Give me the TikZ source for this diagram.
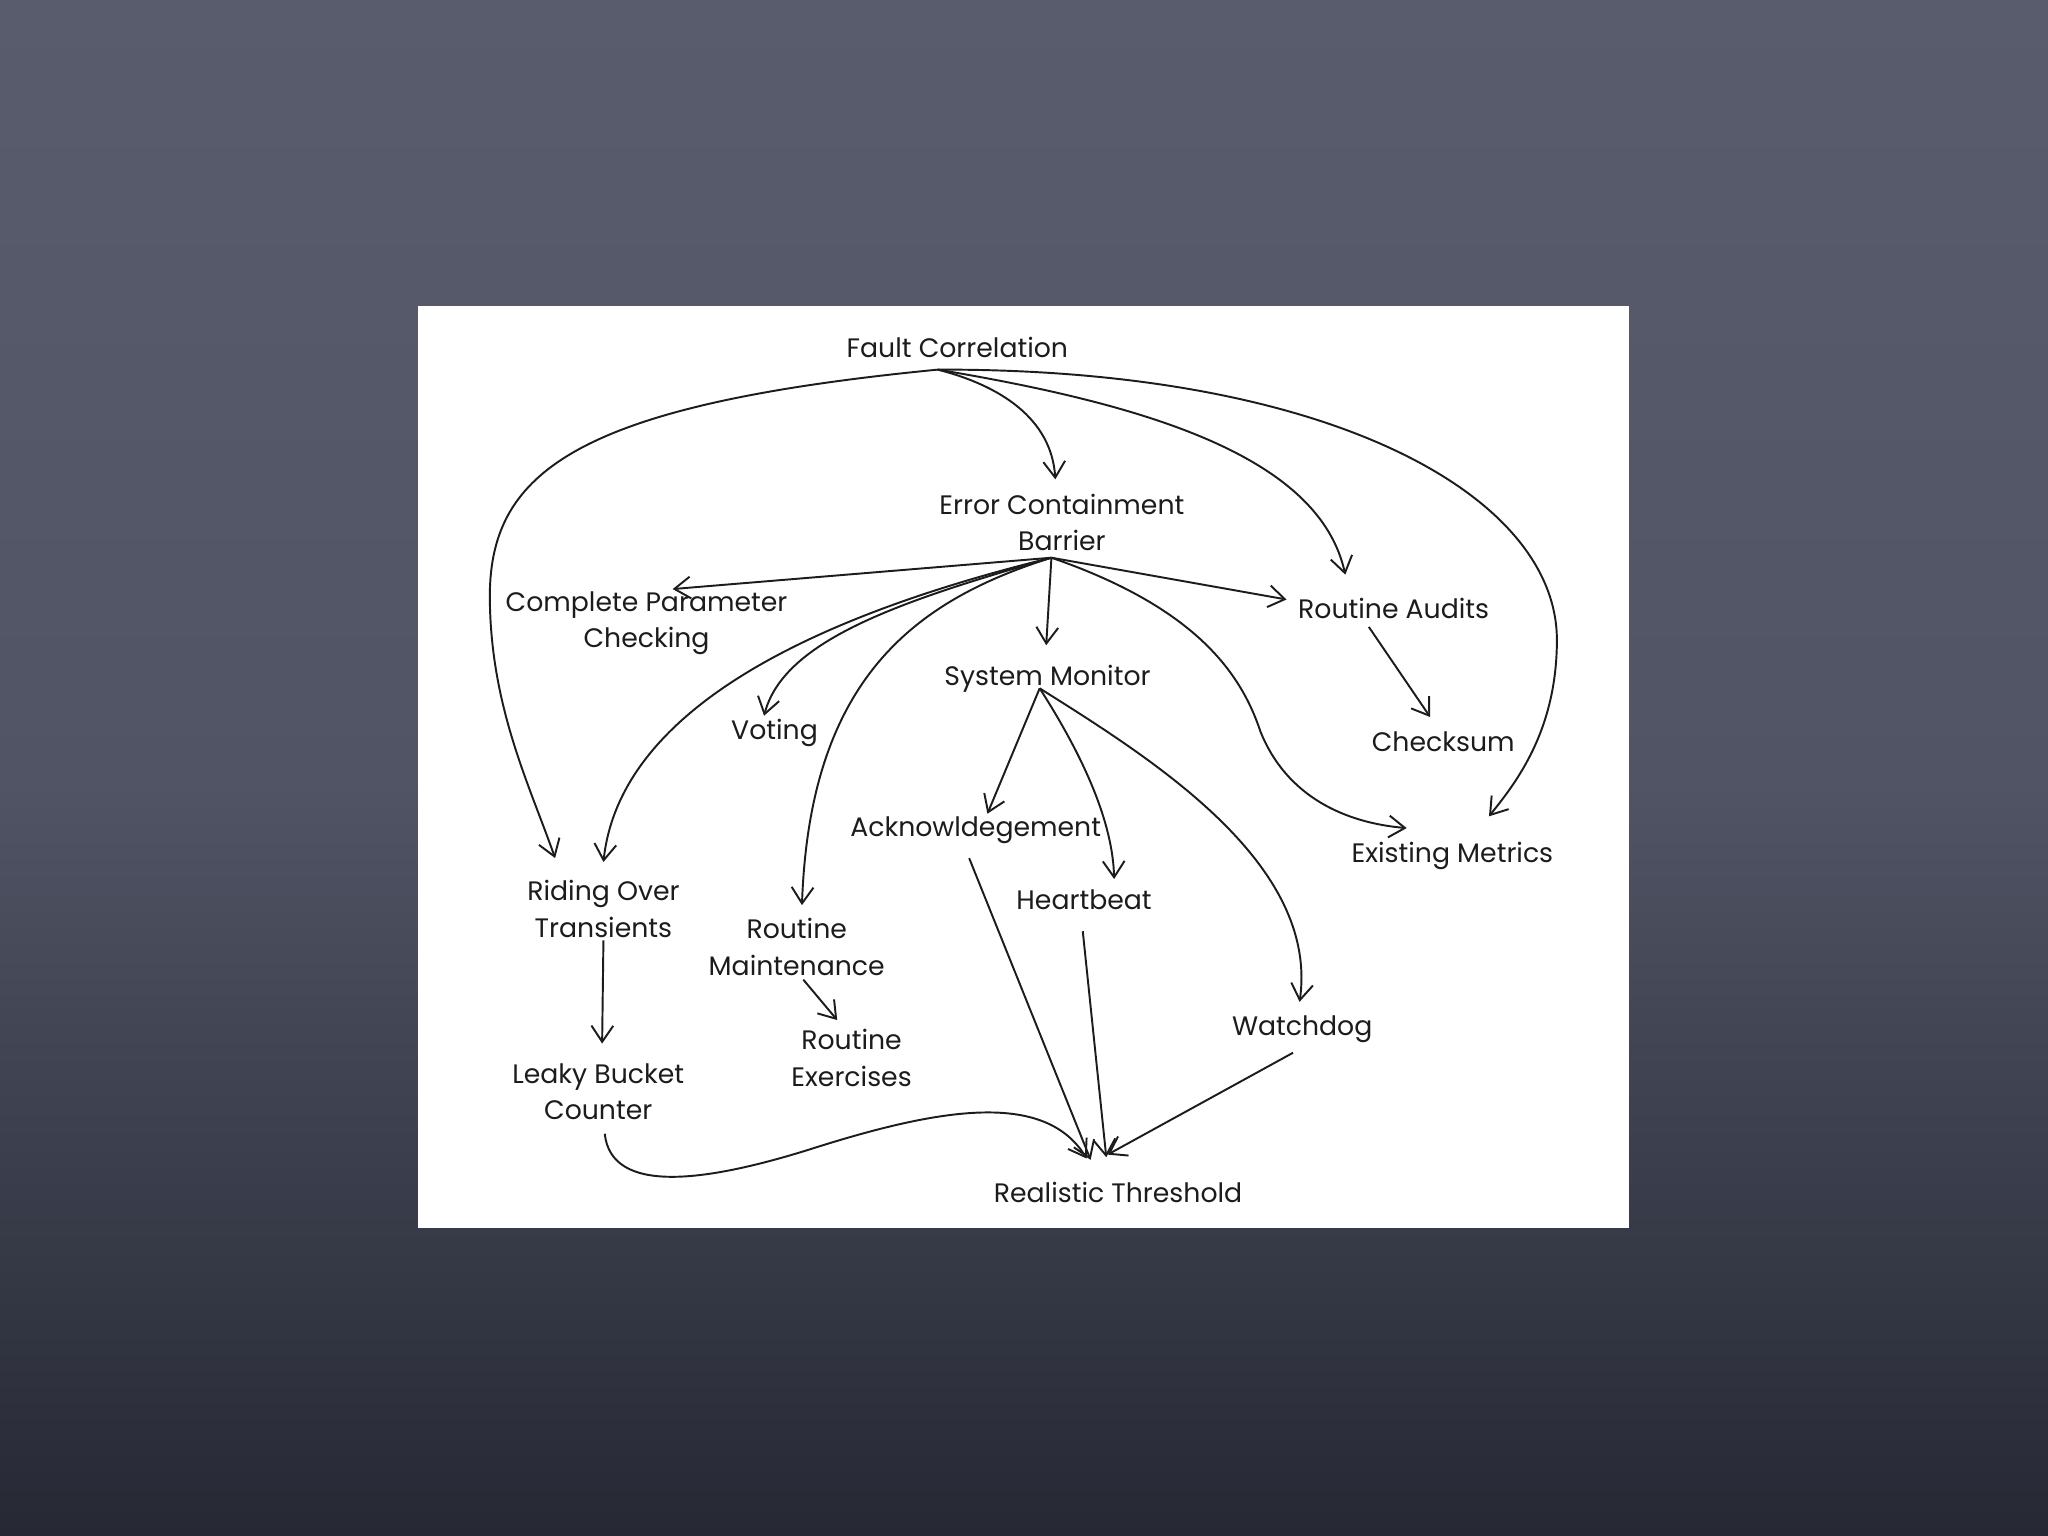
\documentclass[tikz,border=0pt]{standalone}
\usepackage{fontspec}
\setmainfont{Poppins}
\usetikzlibrary{arrows.meta,calc}
\definecolor{bgtop}{RGB}{88,92,108}
\definecolor{bgmid}{RGB}{80,84,100}
\definecolor{bglow}{RGB}{66,69,83}
\definecolor{bgbot}{RGB}{38,40,52}
\definecolor{ink}{RGB}{28,28,28}
\tikzset{
  lbl/.style={font=\fontsize{7.6}{10.4}\selectfont, text=ink, align=center, inner sep=0pt},
  arr/.style={draw=ink, line width=0.55pt, -{Straight Barb[length=4.6pt,width=6.2pt]}},
}
\begin{document}
\begin{tikzpicture}[x=0.013061cm,y=-0.013061cm]
\useasboundingbox (0,0) rectangle (1568,1176);
\shade[top color=bgtop, bottom color=bgmid] (0,0) rectangle (1568,600);
\shade[top color=bgmid, middle color=bglow, bottom color=bgbot] (0,599) rectangle (1568,1176);
\fill[white] (320,234) rectangle (1247,940);

% nodes
\node[lbl] (fc)  at (733,266) {Fault Correlation};
\node[lbl] (ecb) at (813,400) {Error Containment\\Barrier};
\node[lbl] (cpc) at (495,477) {Complete Parameter\\Checking};
\node[lbl] (ra)  at (1067,466) {Routine Audits};
\node[lbl] (sm)  at (802,520) {System Monitor};
\node[lbl] (vot) at (593,561) {Voting};
\node[lbl] (cs)  at (1105,568) {Checksum};
\node[lbl] (ack) at (747,636) {Acknowldegement};
\node[lbl] (em)  at (1112,655) {Existing Metrics};
\node[lbl] (rot) at (462,696) {Riding Over\\Transients};
\node[lbl] (hb)  at (830,689) {Heartbeat};
\node[lbl] (rm)  at (610,725) {Routine\\Maintenance};
\node[lbl] (wd)  at (997,788) {Watchdog};
\node[lbl] (re)  at (652,810) {Routine\\Exercises};
\node[lbl] (lbc) at (458,836) {Leaky Bucket\\Counter};
\node[lbl] (rt)  at (856,913) {Realistic Threshold};

% hubs
\coordinate (fch)  at ($(fc)+(-15,17)$);
\coordinate (ecbh) at ($(ecb)+(-8,27)$);
\coordinate (smh)  at ($(sm)+(-6,7)$);

% from Fault Correlation
\draw[arr] (fch) .. controls (440,310) and (376,362) .. (375,455)
                 .. controls (375,540) and (405,600) .. ($(rot)+(-37,-39)$);
\draw[arr] (fch) .. controls (765,295) and (805,320) .. ($(ecb)+(-5,-33)$);
\draw[arr] (fch) .. controls (880,310) and (1010,350) .. ($(ra)+(-37,-26)$);
\draw[arr] (fch) .. controls (1020,282) and (1192,380) .. (1192,490)
                 .. controls (1192,560) and (1160,600) .. ($(em)+(28,-30)$);

% from Error Containment Barrier
\draw[arr] (ecbh) -- ($(cpc)+(20,-26)$);
\draw[arr] (ecbh) -- ($(ra)+(-82,-7)$);
\draw[arr] (ecbh) -- ($(sm)+(-1,-26)$);
\draw[arr] (ecbh) .. controls (630,470) and (475,540) .. ($(rot)+(0,-36)$);
\draw[arr] (ecbh) .. controls (690,460) and (600,490) .. ($(vot)+(-8,-13)$);
\draw[arr] (ecbh) .. controls (700,460) and (620,520) .. ($(rm)+(4,-32)$);
\draw[arr] (ecbh) .. controls (915,465) and (950,515) .. (965,560)
                  .. controls (985,610) and (1030,630) .. ($(em)+(-35,-21)$);

% from System Monitor
\draw[arr] (smh) -- ($(ack)+(9,-13)$);
\draw[arr] (smh) .. controls (830,580) and (852,630) .. ($(hb)+(23,-16)$);
\draw[arr] (smh) .. controls (880,580) and (1010,660) .. ($(wd)+(-2,-21)$);

% others
\draw[arr] ($(ra)+(-19,14)$) -- ($(cs)+(-10,-19)$);
\draw[arr] ($(rot)+(0,24)$) -- ($(lbc)+(3,-37)$);
\draw[arr] ($(rm)+(5,25)$) -- ($(re)+(-11,-29)$);
\draw[arr] ($(ack)+(-5,21)$) -- ($(rt)+(-21,-25)$);
\draw[arr] ($(hb)+(-1,24)$) -- ($(rt)+(-9,-27)$);
\draw[arr] ($(wd)+(-7,18)$) -- ($(rt)+(-8,-29)$);
\draw[arr] ($(lbc)+(5,32)$) .. controls (468,915) and (540,905) .. (620,880)
                            .. controls (720,848) and (800,835) .. ($(rt)+(-24,-26)$);
\end{tikzpicture}
\end{document}
